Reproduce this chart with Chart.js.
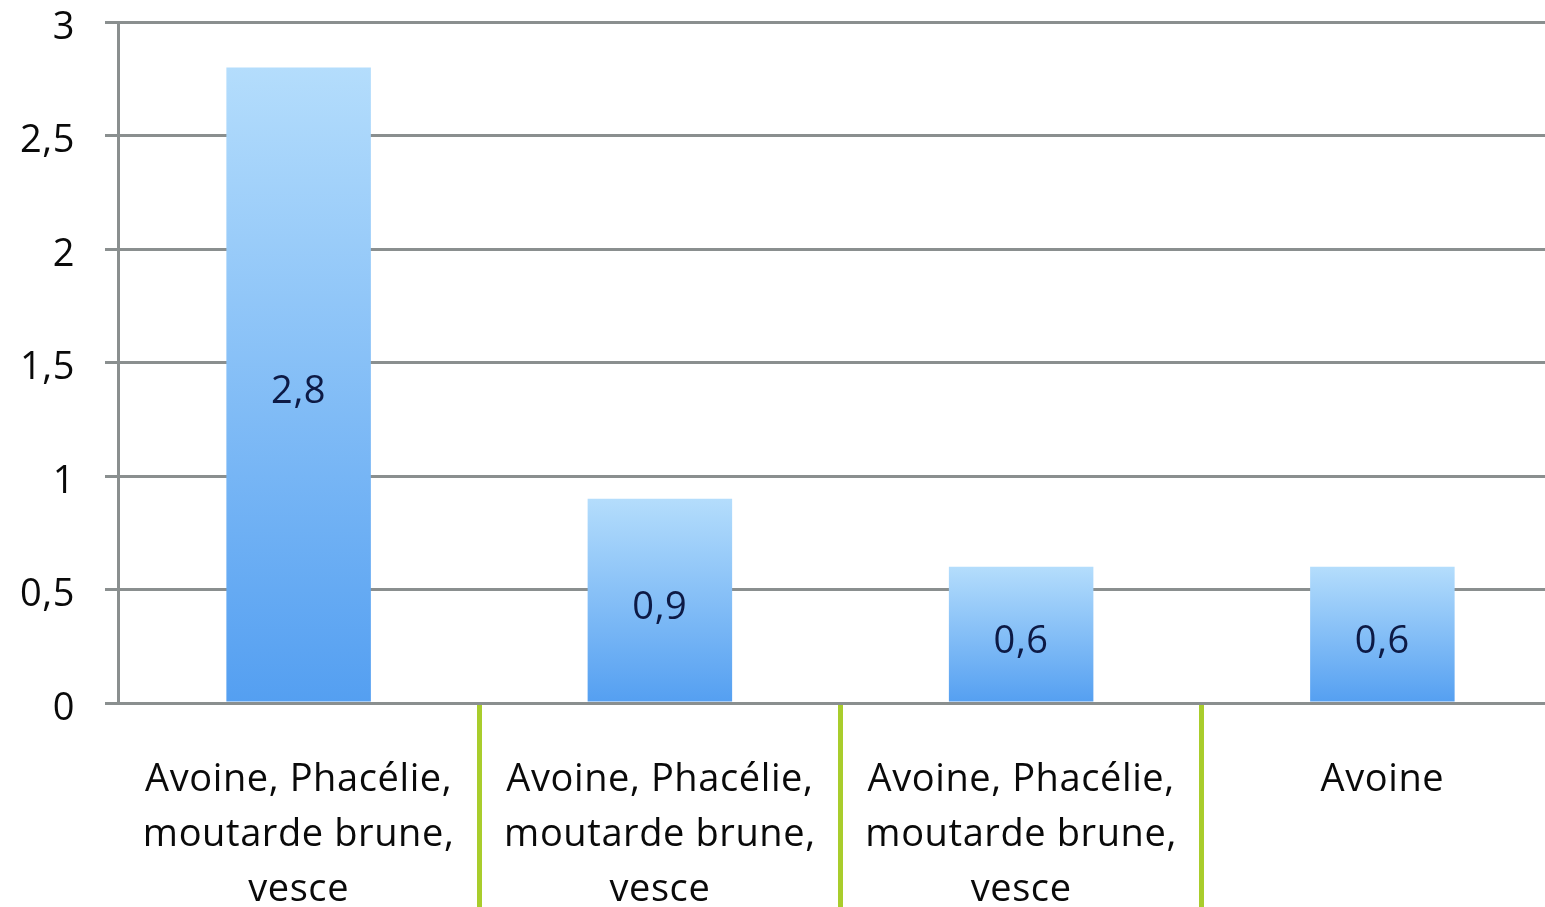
<!DOCTYPE html>
<html>
<head>
<meta charset="utf-8">
<script src="https://cdn.jsdelivr.net/npm/chart.js@4/dist/chart.umd.min.js"></script>
<style>
  html, body { margin: 0; padding: 0; background: #fff; overflow: hidden; }
  #wrap { width: 1563px; height: 907px; }
</style>
</head>
<body>
<div id="wrap"><canvas id="chart-bar" width="1563" height="907"></canvas></div>
<script>
// DATA
const categories = [
  ["Avoine, Phacélie,", "moutarde brune,", "vesce"],
  ["Avoine, Phacélie,", "moutarde brune,", "vesce"],
  ["Avoine, Phacélie,", "moutarde brune,", "vesce"],
  ["Avoine"],
];
const values = [2.8, 0.9, 0.6, 0.6];
const yTicks = [0, 0.5, 1, 1.5, 2, 2.5, 3];

const FONT = "'Open Sans'";
const FONT_SIZE = 38;
const fmt = (v) => String(v).replace(".", ",");

// vertical gradient per bar, light at top, darker at bottom
function barGradient(context) {
  const chart = context.chart;
  const { ctx, chartArea, scales } = chart;
  if (!chartArea) return "#7dbdf7";
  const v = context.raw;
  const top = scales.y.getPixelForValue(v);
  const bottom = scales.y.getPixelForValue(0);
  const g = ctx.createLinearGradient(0, top, 0, bottom);
  g.addColorStop(0, "#b4ddfc");
  g.addColorStop(1, "#549ff1");
  return g;
}

// a little letter spacing, the original font runs wide
const spacing = {
  id: "spacing",
  beforeDraw(chart) {
    chart.ctx.letterSpacing = "0.6px";
  },
};

// value labels in the middle of each bar
const valueLabels = {
  id: "valueLabels",
  afterDatasetsDraw(chart) {
    const { ctx } = chart;
    const meta = chart.getDatasetMeta(0);
    ctx.save();
    ctx.font = `${FONT_SIZE}px ${FONT}`;
    ctx.fillStyle = "#0d1a45";
    ctx.textAlign = "center";
    ctx.textBaseline = "middle";
    meta.data.forEach((bar, i) => {
      const y = (bar.y + bar.base) / 2 + 8;
      ctx.fillText(fmt(values[i]), bar.x, y);
    });
    ctx.restore();
  },
};

new Chart(document.getElementById("chart-bar"), {
  type: "bar",
  data: {
    labels: categories,
    datasets: [{
      data: values,
      backgroundColor: barGradient,
      borderWidth: 0,
      barPercentage: 0.4,
      categoryPercentage: 1,
    }],
  },
  options: {
    responsive: false,
    animation: false,
    events: [],
    plugins: { legend: { display: false }, tooltip: { enabled: false } },
    layout: { padding: { top: 22, left: 0, right: 0, bottom: 0 } },
    scales: {
      x: {
        afterFit: (scale) => {
          scale.height = 204;
          scale.paddingTop = 0;
          scale.paddingBottom = 0;
        },
        border: { color: "#8a8f8f", width: 3 },
        grid: {
          offset: true,
          drawOnChartArea: false,
          drawTicks: true,
          tickLength: 204,
          lineWidth: 5,
          color: (c) => (c.index === 0 ? "transparent" : "#a9cd2c"),
        },
        ticks: {
          padding: 50 - 204,
          color: "#0a0a0a",
          font: { family: FONT, size: FONT_SIZE, lineHeight: 55 / FONT_SIZE },
          maxRotation: 0,
          autoSkip: false,
        },
      },
      y: {
        min: 0,
        max: 3,
        afterFit: (scale) => {
          scale.width = 118;
          scale.paddingTop = 0;
          scale.paddingBottom = 0;
        },
        afterBuildTicks: (scale) => { scale.ticks = yTicks.map((v) => ({ value: v })); },
        border: { color: "#8a8f8f", width: 3 },
        grid: { color: "#8a8f8f", lineWidth: 3, tickLength: 13 },
        ticks: {
          padding: 30,
          labelOffset: 6,
          color: "#0a0a0a",
          font: { family: FONT, size: FONT_SIZE },
          callback: (v) => fmt(v),
        },
      },
    },
  },
  plugins: [spacing, valueLabels],
});
</script>
</body>
</html>
